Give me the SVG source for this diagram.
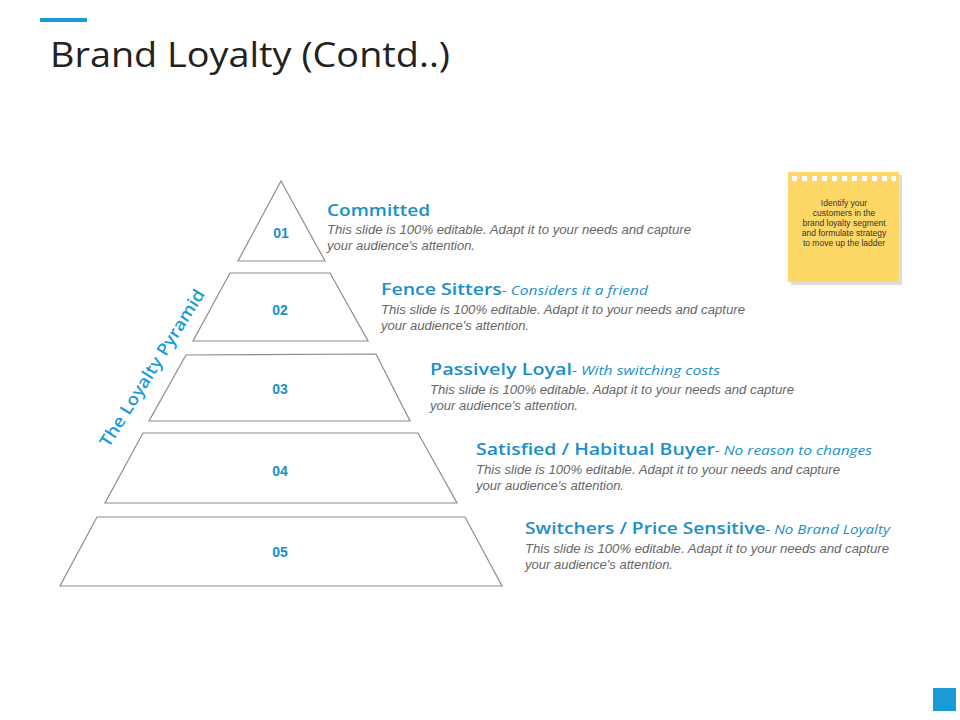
<svg xmlns="http://www.w3.org/2000/svg" width="960" height="720" viewBox="0 0 960 720">
<style>
.t{font-family:"Liberation Sans",Arial,sans-serif}
.tier{fill:#fff;stroke:#8c8c8c;stroke-width:1.2}
.num{font-family:"Liberation Sans",Arial,sans-serif;font-weight:bold;font-size:14px;fill:#1a8fc9;text-anchor:middle}
.h{font-family:"Open Sans","Liberation Sans",sans-serif;font-weight:600;font-size:17px;fill:#1a8fc9}
.s{font-weight:normal;font-style:italic;font-size:13.5px}
.d{font-family:"Liberation Sans",Arial,sans-serif;font-style:italic;font-size:12px;fill:#666}
</style>
<rect width="960" height="720" fill="#fff"/>
<rect x="40" y="18" width="47" height="4" fill="#1a9bd7"/>
<text x="50" y="67" font-size="34" fill="#222" font-family="Open Sans,Liberation Sans,sans-serif" textLength="400" lengthAdjust="spacingAndGlyphs">Brand Loyalty (Contd..)</text>
<rect x="933" y="688" width="23" height="23" fill="#1a9bd7"/>
<g id="tier1"><polygon class="tier" points="281,181 325,261 238,261"/><text class="num" x="281" y="238">01</text></g>
<g id="tier2"><polygon class="tier" points="230,273 330,273 368,341 193,341"/><text class="num" x="280" y="315">02</text></g>
<g id="tier3"><polygon class="tier" points="186,355 376,354 410,421 149,421"/><text class="num" x="280" y="394">03</text></g>
<g id="tier4"><polygon class="tier" points="143,433 418,433 457,503 105,503"/><text class="num" x="280" y="476">04</text></g>
<g id="tier5"><polygon class="tier" points="97,517 465,517 502,586 60,586"/><text class="num" x="280" y="557">05</text></g>
<g id="label"><text x="152" y="374" transform="rotate(-58 152 368)" text-anchor="middle" textLength="182" lengthAdjust="spacingAndGlyphs" style="font-family:'Open Sans','Liberation Sans',sans-serif;font-weight:600;font-size:17px;fill:#1a9bd7">The Loyalty Pyramid</text></g>
<g id="desc1"><text class="h" x="327" y="216" textLength="103" lengthAdjust="spacingAndGlyphs">Committed</text>
<text class="d" x="327" y="234" textLength="364" lengthAdjust="spacingAndGlyphs">This slide is 100%  editable. Adapt it to your needs and capture</text>
<text class="d" x="327" y="250" textLength="148" lengthAdjust="spacingAndGlyphs">your audience's  attention.</text></g>
<g id="desc2"><text class="h" x="381" y="295" textLength="267" lengthAdjust="spacingAndGlyphs">Fence Sitters<tspan class="s">- Considers it a friend</tspan></text>
<text class="d" x="381" y="314" textLength="364" lengthAdjust="spacingAndGlyphs">This slide is 100%  editable. Adapt it to your needs and capture</text>
<text class="d" x="381" y="330" textLength="148" lengthAdjust="spacingAndGlyphs">your audience's  attention.</text></g>
<g id="desc3"><text class="h" x="430" y="375" textLength="290" lengthAdjust="spacingAndGlyphs">Passively Loyal<tspan class="s">- With switching costs</tspan></text>
<text class="d" x="430" y="394" textLength="364" lengthAdjust="spacingAndGlyphs">This slide is 100%  editable. Adapt it to your needs and capture</text>
<text class="d" x="430" y="410" textLength="148" lengthAdjust="spacingAndGlyphs">your audience's  attention.</text></g>
<g id="desc4"><text class="h" x="476" y="455" textLength="396" lengthAdjust="spacingAndGlyphs">Satisfied / Habitual Buyer<tspan class="s">- No reason to changes</tspan></text>
<text class="d" x="476" y="474" textLength="364" lengthAdjust="spacingAndGlyphs">This slide is 100%  editable. Adapt it to your needs and capture</text>
<text class="d" x="476" y="490" textLength="148" lengthAdjust="spacingAndGlyphs">your audience's  attention.</text></g>
<g id="desc5"><text class="h" x="525" y="534" textLength="365" lengthAdjust="spacingAndGlyphs">Switchers / Price Sensitive<tspan class="s">- No Brand Loyalty</tspan></text>
<text class="d" x="525" y="553" textLength="364" lengthAdjust="spacingAndGlyphs">This slide is 100%  editable. Adapt it to your needs and capture</text>
<text class="d" x="525" y="569" textLength="148" lengthAdjust="spacingAndGlyphs">your audience's  attention.</text></g>
<g id="note">
<rect x="791" y="175" width="111" height="110" fill="#ddd"/>
<rect x="788" y="172" width="111" height="110" fill="#fdd867"/>
<g fill="#fff">
<rect x="792" y="176" width="5" height="5"/><rect x="802" y="176" width="5" height="5"/><rect x="812" y="176" width="5" height="5"/><rect x="822" y="176" width="5" height="5"/><rect x="832" y="176" width="5" height="5"/><rect x="842" y="176" width="5" height="5"/><rect x="852" y="176" width="5" height="5"/><rect x="862" y="176" width="5" height="5"/><rect x="872" y="176" width="5" height="5"/><rect x="882" y="176" width="5" height="5"/><rect x="891" y="176" width="5" height="5"/>
</g>
<g class="t" font-size="8.5" fill="#333" text-anchor="middle">
<text x="844" y="206">Identify your</text>
<text x="844" y="216">customers in the</text>
<text x="844" y="226">brand loyalty segment</text>
<text x="844" y="236">and formulate strategy</text>
<text x="844" y="246">to move up the ladder</text>
</g></g>
</svg>
